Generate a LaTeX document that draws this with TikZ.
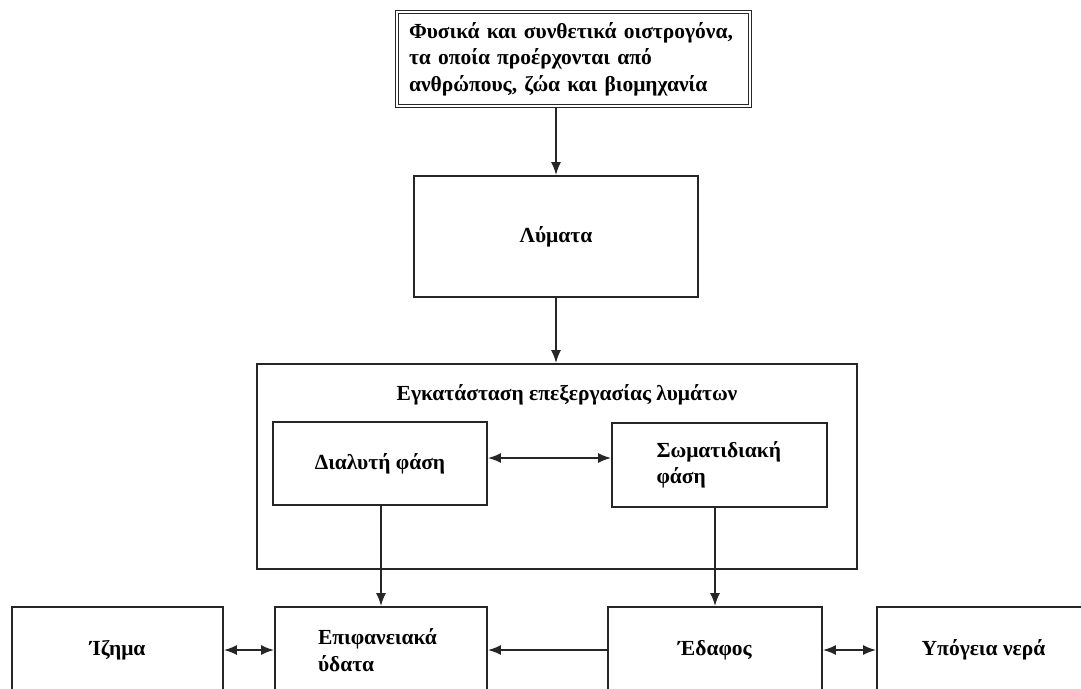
\documentclass[tikz,border=0pt]{standalone}
\usepackage{fontspec}
\setmainfont{Liberation Serif}
\usetikzlibrary{arrows.meta}
\tikzset{
  box/.style={draw=black!85, line width=1.8pt, rectangle, inner sep=0pt, align=center,
    font=\fontsize{21.5}{26.5}\selectfont\bfseries},
  dbox/.style={box, line width=1.2pt, double=white, double distance=1.6pt},
  conn/.style={draw=black!85, line width=1.8pt, -{Latex[length=13pt,width=10pt]}},
  dconn/.style={draw=black!85, line width=1.8pt, {Latex[length=13pt,width=10pt]}-{Latex[length=13pt,width=10pt]}},
  lbl/.style={font=\fontsize{21.5}{26.5}\selectfont\bfseries, inner sep=0pt}
}
\begin{document}
\begin{tikzpicture}[x=1pt,y=-1pt]
\clip (0,0) rectangle (1081,688);
\fill[white] (0,0) rectangle (1081,688);
% top box
\node[dbox, minimum width=353pt, minimum height=94pt, text width=329pt, align=left] (src) at (573.5,59)
  {Φυσικά και συνθετικά οιστρογόνα,\\τα οποία προέρχονται από\\ανθρώπους, ζώα και βιομηχανία};
\node[box, minimum width=284pt, minimum height=121pt] (lym) at (556,236.5) {Λύματα};
% plant
\node[box, minimum width=600pt, minimum height=205pt] (plant) at (557,466.5) {};
\node[lbl] (title) at (567,395) {Εγκατάσταση επεξεργασίας λυμάτων};
\node[box, minimum width=214pt, minimum height=83pt] (il) at (380,463.5) {Διαλυτή φάση};
\node[box, minimum width=215pt, minimum height=84pt, text width=126pt, align=left] (ir) at (719.5,465) {Σωματιδιακή\\φάση};
% bottom
\node[box, minimum width=211pt, minimum height=86pt] (sed) at (117.5,650) {Ίζημα};
\node[box, minimum width=212pt, minimum height=86pt, text width=126pt, align=left] (sw) at (381,650) {Επιφανειακά\\ύδατα};
\node[box, minimum width=214pt, minimum height=86pt] (soil) at (715,650) {Έδαφος};
\node[box, minimum width=213pt, minimum height=86pt] (gw) at (983.5,650) {Υπόγεια νερά};
% connectors
\draw[conn] (src.south -| lym.north) -- (lym.north);
\draw[conn] (lym.south) -- (lym.south |- plant.north);
\draw[dconn] ([yshift=5.5pt]il.east) -- ([yshift=5.5pt]il.east -| ir.west);
\draw[conn] (il.south -| sw.north) -- (sw.north);
\draw[conn] (ir.south -| soil.north) -- (soil.north);
\draw[dconn] (sed.east) -- (sw.west);
\draw[conn] (soil.west) -- (sw.east);
\draw[dconn] (soil.east) -- (gw.west);
\end{tikzpicture}
\end{document}
